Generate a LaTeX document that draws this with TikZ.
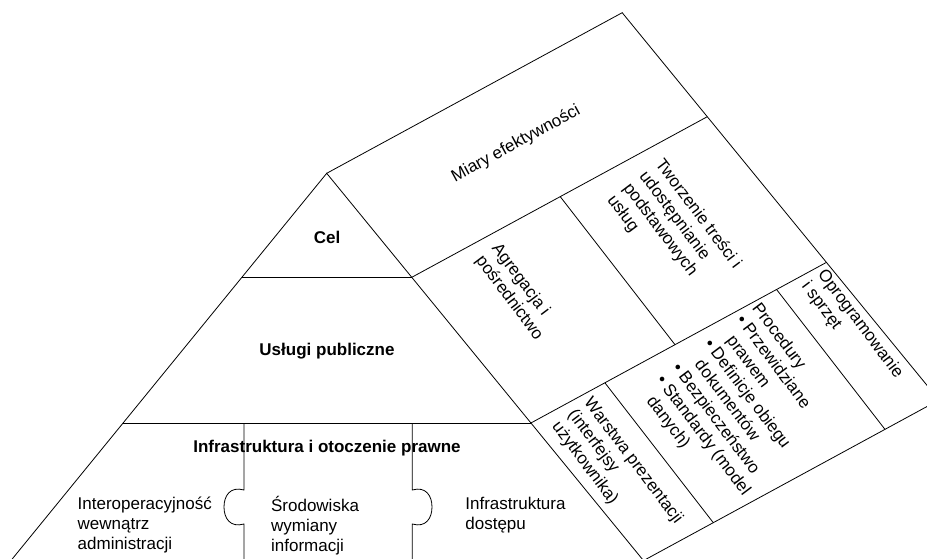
\documentclass[tikz,border=0pt]{standalone}
\usepackage{fontspec}
\setmainfont{Liberation Sans}

\begin{document}
\begin{tikzpicture}[x=1pt, y=-1pt, line width=0.8pt,
  every node/.style = {inner sep=0pt, align=left,
    font=\fontsize{17}{20}\selectfont},
  heading/.style = {font=\fontsize{17}{20}\selectfont\bfseries},
  slant/.style = {rotate=-53}]
  \useasboundingbox (0,0) rectangle (927,559);
  \clip (0,0) rectangle (927,559);
  \coordinate (apex) at (326.7,173.3);
  \coordinate (baseL) at (12.2,559);
  \coordinate (celL) at (241.9,277.3);
  \coordinate (celR) at (411.8,277.3);
  \coordinate (uslL) at (123.1,423);
  \coordinate (uslR) at (530.9,423);
  \coordinate (roofT) at (622.2,12.7);
  \coordinate (roofB) at (643.5,560.6);
  \coordinate (roofC) at (939,400);
  \coordinate (miaryR) at (707.3,116.7);
  \coordinate (warstR) at (826.4,262.4);
  % pyramid
  \draw (baseL) -- (apex) -- (roofB);
  \draw (celL) -- (celR);
  \draw (uslL) -- (uslR);
  \draw (244,423) -- (244,490) .. controls (230,486) and (224,496) .. (224,507)
    .. controls (224,518) and (230,528) .. (244,524) -- (244,560);
  \draw (412.3,423) -- (412.3,490) .. controls (426,486) and (432,496) .. (432,507)
    .. controls (432,518) and (426,528) .. (412.3,524) -- (412.3,560);
  % roof
  \draw (apex) -- (roofT) -- (roofC) -- (roofB);
  \draw (celR) -- (miaryR);
  \draw (uslR) -- (warstR);
  \draw (560.2,196.6) -- (675,344.7);
  \draw (604.9,382.8) -- (713.3,522.7);
  \draw (776.5,289.4) -- (885,429.4);
  \node[heading] (cel) at (327,237) {Cel};
  \node[heading] (uslugi) at (327,351) {Usługi publiczne};
  \node[heading] (infra) at (327,448) {Infrastruktura i otoczenie prawne};
  \node[anchor=west] (interop) at (77.3,525.5) {Interoperacyjność\\wewnątrz\\administracji};
  \node[anchor=west] (srodowiska) at (270.7,525.5) {Środowiska\\wymiany\\informacji};
  \node[anchor=west] (dostep) at (465,515.5) {Infrastruktura\\dostępu};
  \node[rotate=28.5] (miary) at (516,144) {Miary efektywności};
  \node[slant] (agregacja) at (517,292) {Agregacja i\\pośrednictwo};
  \node[slant] (tworzenie) at (674,232) {Tworzenie treści i\\udostępnianie\\podstawowych\\usług};
  \node[slant] (warstwa) at (617,473) {Warstwa prezentacji\\(interfejsy\\użytkownika)};
  \node[slant] (procedury) at (742.8,405.6) {Procedury\\\textbullet\ Przewidziane\\\phantom{\textbullet\ }prawem\\\textbullet\ Definicje obiegu\\\phantom{\textbullet\ }dokumentów\\\textbullet\ Bezpieczeństwo\\\textbullet\ Standardy (model\\\phantom{\textbullet\ }danych)};
  \node[slant] (sprzet) at (852,330) {Oprogramowanie\\i sprzęt};
\end{tikzpicture}
\end{document}
